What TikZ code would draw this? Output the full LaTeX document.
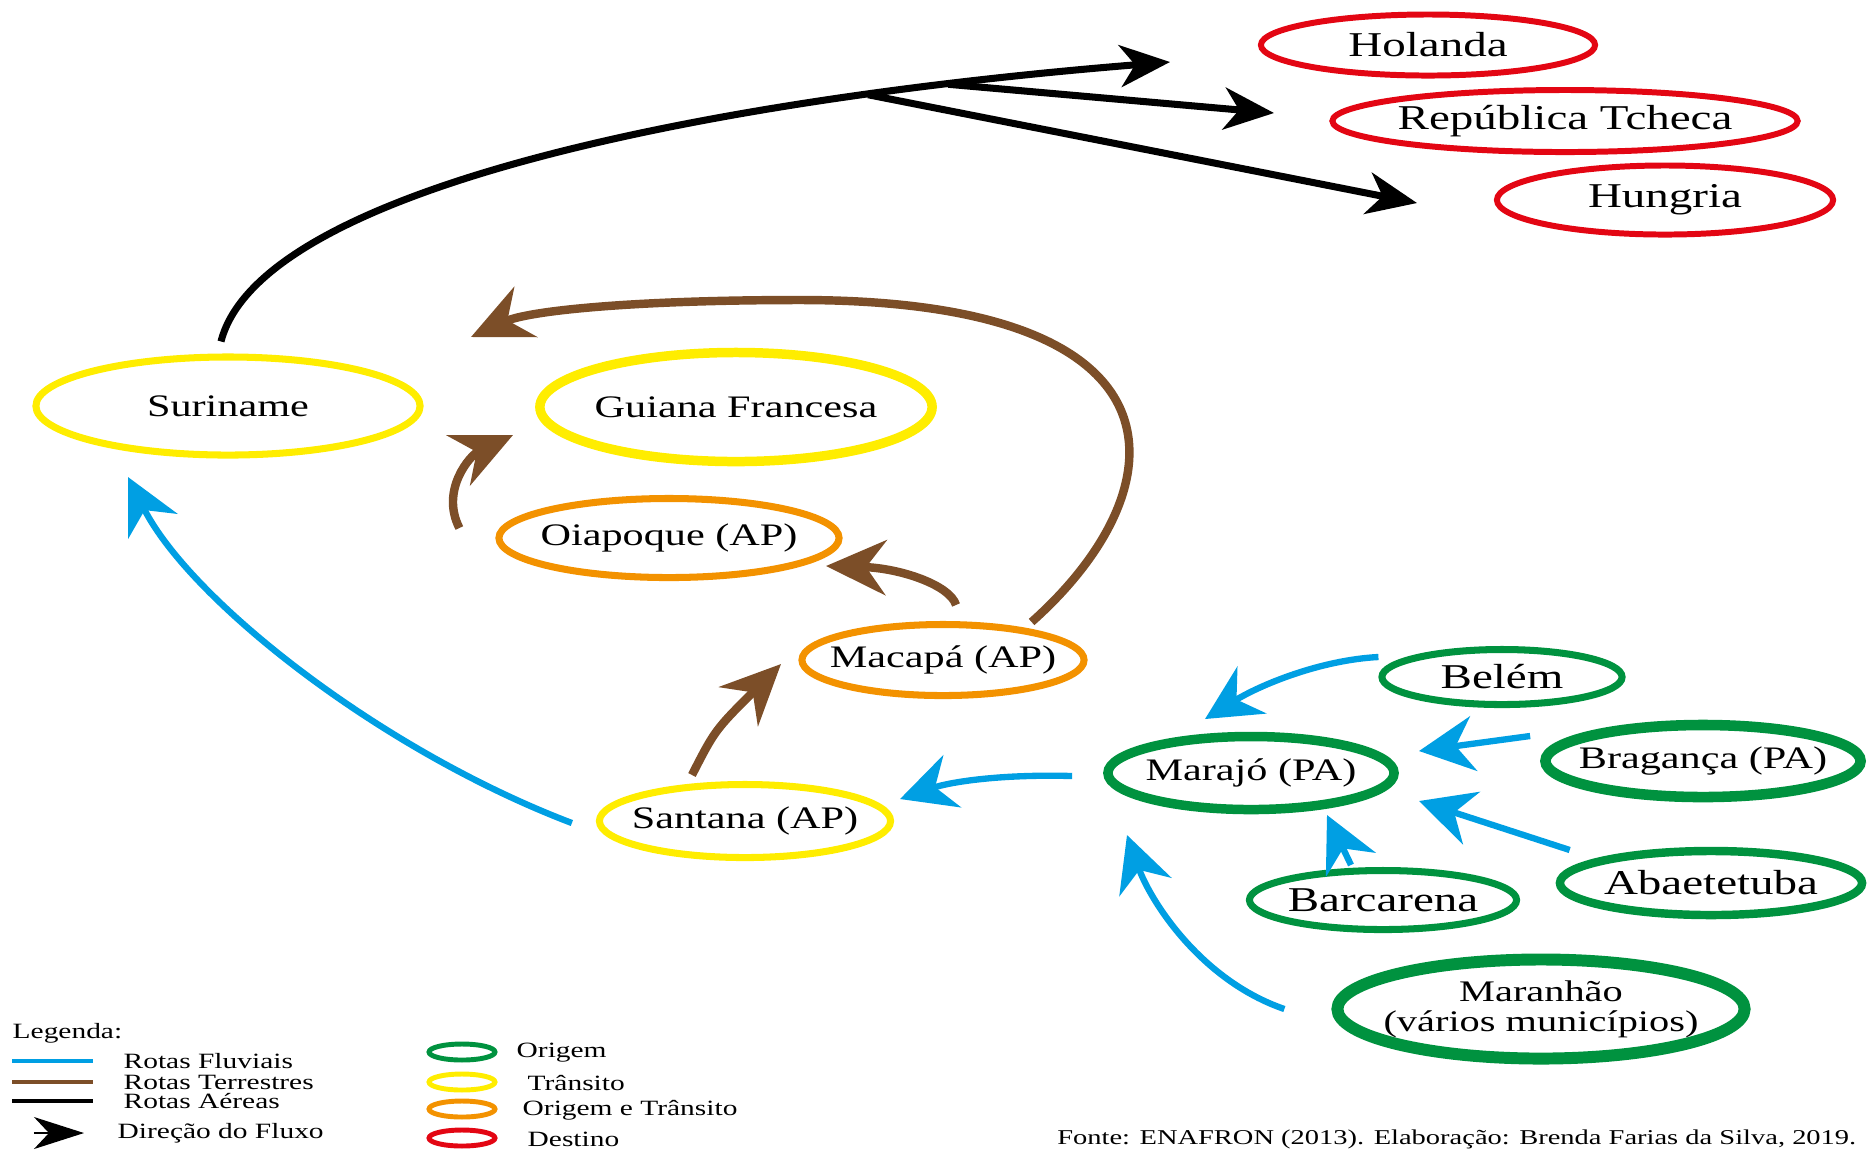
\documentclass[tikz,border=0pt]{standalone}
\usepackage{fontspec}
\setmainfont{Liberation Serif}[FakeStretch=1.35]
\usetikzlibrary{arrows.meta,shapes.geometric}

\definecolor{verde}{HTML}{00923F}
\definecolor{amarelo}{HTML}{FFED00}
\definecolor{laranja}{HTML}{F39200}
\definecolor{vermelho}{HTML}{E30613}
\definecolor{azul}{HTML}{009FE3}
\definecolor{marrom}{HTML}{7C4E28}

\begin{document}
\begin{tikzpicture}[x=0.01cm,y=-0.01cm,
    place/.style={ellipse,draw,inner xsep=-3mm,inner ysep=0pt,line width=2pt,font=\fontsize{8.9}{8.6}\selectfont},
    origem/.style={place,draw=verde},
    transito/.style={place,draw=amarelo},
    ortran/.style={place,draw=laranja},
    destino/.style={place,draw=vermelho,line width=1.7pt},
    big/.style={font=\fontsize{9.9}{10}\selectfont},
    fluvial/.style={draw=azul,line width=1.8pt,-{Stealth[length=5.5mm,width=5.5mm,inset=1.8mm]}},
    terrestre/.style={draw=marrom,line width=2.4pt,-{Stealth[length=6mm,width=5.5mm,inset=2mm]}},
    aerea/.style={draw=black,line width=2pt,-{Stealth[length=5mm,width=4.2mm,inset=1.5mm]}},
    legtxt/.style={anchor=west,inner sep=0pt,font=\fontsize{6.2}{7}\selectfont},
    legoval/.style={ellipse,draw,line width=1.4pt,inner sep=0pt,minimum width=0.66cm,minimum height=0.16cm}]

\useasboundingbox (0,0) rectangle (1870,1150);

% destinos
\node[destino,big,minimum width=3.34cm,minimum height=0.61cm] (hol) at (1428,45) {Holanda};
\node[destino,big,minimum width=4.65cm,minimum height=0.62cm] (tch) at (1565,121) {República Tcheca};
\node[destino,big,minimum width=3.36cm,minimum height=0.69cm] (hun) at (1665,200) {Hungria};

% transito / origem e transito
\node[transito,minimum width=3.84cm,minimum height=0.98cm] (sur) at (228,406) {Suriname};
\node[transito,line width=2.7pt,minimum width=3.92cm,minimum height=1.09cm] (gui) at (736,407) {Guiana Francesa};
\node[ortran,minimum width=3.40cm,minimum height=0.79cm] (oia) at (669,538) {Oiapoque (AP)};
\node[ortran,minimum width=2.82cm,minimum height=0.71cm] (mac) at (943,660) {Macapá (AP)};
\node[transito,minimum width=2.91cm,minimum height=0.73cm] (san) at (745,821) {Santana (AP)};

% origens
\node[origem,big,minimum width=2.40cm,minimum height=0.55cm] (bel) at (1502,677) {Belém};
\node[origem,line width=2.7pt,minimum width=2.86cm,minimum height=0.73cm] (mar) at (1251,773) {Marajó (PA)};
\node[origem,line width=3pt,minimum width=3.15cm,minimum height=0.72cm] (bra) at (1703,761) {Bragança (PA)};
\node[origem,big,line width=2.4pt,minimum width=3.02cm,minimum height=0.64cm] (aba) at (1711,883) {Abaetetuba};
\node[origem,big,minimum width=2.67cm,minimum height=0.59cm] (bar) at (1383,900) {Barcarena};
\node[origem,line width=3.4pt,align=center,minimum width=4.07cm,minimum height=0.99cm,font=\fontsize{8.5}{8.6}\selectfont] (mrn) at (1541,1009) {Maranhão\\(vários municípios)};

% pontas das setas
\coordinate (hol-in) at (1170,62);
\coordinate (tch-in) at (1274,113);
\coordinate (hun-in) at (1417,203);
\coordinate (topo) at (471,337);
\coordinate (gui-in) at (513,435);
\coordinate (oia-in) at (826,566);
\coordinate (mac-in) at (781,664);
\coordinate (sur-in) at (128,477);
\coordinate (san-in) at (900,799);
\coordinate (mar-a) at (1205,719);
\coordinate (mar-b) at (1419,751);
\coordinate (mar-c) at (1419,801);
\coordinate (mar-d) at (1327,815);
\coordinate (mar-e) at (1127,835);

% rotas aereas
\draw[aerea] ([xshift=-0.7mm,yshift=1.2mm]sur.north) .. controls (260,190) and (700,100) .. (hol-in)
    coordinate[pos=0.78] (j1) coordinate[pos=0.84] (j2);
\path (j2) edge[aerea] (tch-in)
      (j1) edge[aerea] (hun-in);

% rotas terrestres
\draw[terrestre] ([xshift=-5.6mm,yshift=3.8mm]mac.east) .. controls (1180,490) and (1200,300) .. (800,300)
    .. controls (640,300) and (530,310) .. (topo);
\draw[terrestre] ([xshift=-3.6mm,yshift=1mm]oia.west) .. controls (440,490) and (470,455) .. (gui-in);
\draw[terrestre] ([xshift=1.3mm,yshift=1.6mm]mac.north) .. controls (950,585) and (900,568) .. (oia-in);
\draw[terrestre] ([xshift=-5.3mm,yshift=0.6mm]san.north) .. controls (715,730) .. (mac-in);

% rotas fluviais
\draw[fluvial] ([xshift=-2.4mm,yshift=-0.2mm]san.west) .. controls (380,750) and (190,600) .. (sur-in);
\draw[fluvial] ([xshift=-3.1mm,yshift=-0.3mm]mar.west) .. controls (1000,774) and (950,782) .. (san-in);
\draw[fluvial] ([yshift=2mm]bel.west) .. controls (1320,660) and (1260,685) .. (mar-a);
\draw[fluvial] ([xshift=-4.7mm]mrn.west) .. controls (1200,980) and (1150,900) .. (mar-e);
\path ([xshift=-1mm,yshift=2.5mm]bra.west) edge[fluvial] (mar-b)
      ([xshift=1.4mm,yshift=3.3mm]aba.west) edge[fluvial] (mar-c)
      ([xshift=-3.2mm,yshift=0.2mm]bar.north) edge[fluvial] (mar-d);

% legenda
\node[legtxt] (leg) at (12,1033) {Legenda:};
\node[legtxt] (lf) at (123,1061) {Rotas Fluviais};
\node[legtxt] (lt) at (123,1082) {Rotas Terrestres};
\node[legtxt] (la) at (123,1101) {Rotas Aéreas};
\node[legtxt] (ld) at (117,1133) {Direção do Fluxo};
\draw[azul,line width=1.4pt] ([xshift=-3mm]lf.west) -- ++(-81,0);
\draw[marrom,line width=1.4pt] ([xshift=-3mm]lt.west) -- ++(-81,0);
\draw[black,line width=1.4pt] ([xshift=-3mm]la.west) -- ++(-81,0);
\draw[line width=0.4pt,-{Stealth[length=5mm,width=3.2mm,inset=1.5mm]}] ([xshift=-8.3mm]ld.west) -- ([xshift=-3.3mm]ld.west);

\node[legoval,draw=verde] (lo) at (462,1052) {};
\node[legoval,draw=amarelo] (ltr) at (462,1082) {};
\node[legoval,draw=laranja] (lot) at (462,1109) {};
\node[legoval,draw=vermelho] (lde) at (462,1138) {};
\node[legtxt] at (516,1053) {Origem};
\node[legtxt] at (527,1083) {Trânsito};
\node[legtxt] at (522,1110) {Origem e Trânsito};
\node[legtxt] at (527,1139) {Destino};

\node[anchor=east,inner sep=0pt,font=\fontsize{6}{7}\selectfont] (fonte) at (1857,1139)
    {Fonte: ENAFRON (2013). Elaboração: Brenda Farias da Silva, 2019.};

\end{tikzpicture}
\end{document}
